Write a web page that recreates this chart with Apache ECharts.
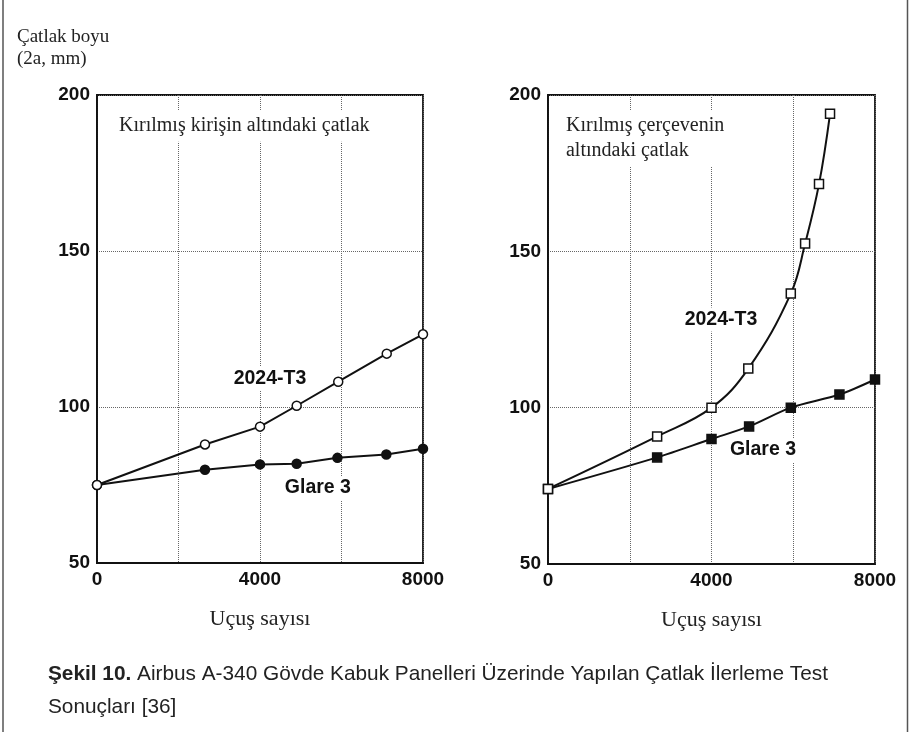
<!DOCTYPE html>
<html><head><meta charset="utf-8">
<script src="https://cdn.jsdelivr.net/npm/echarts@6/dist/echarts.min.js"></script>
<style>html,body{margin:0;padding:0;background:#fff}#c{width:909px;height:732px}</style>
</head><body><div id="c"></div>
<script>
// ---- data ----
const xTickLabels = [0, 4000, 8000];
const yTickLabels = [50, 100, 150, 200];
const leftT3X = [0, 2650, 4000, 4900, 5920, 7110, 8000];
const leftT3Y = [75, 88, 93.7, 100.4, 108.1, 117.1, 123.3];
const leftG3X = [0, 2650, 4000, 4900, 5900, 7100, 8000];
const leftG3Y = [75, 79.9, 81.6, 81.8, 83.7, 84.8, 86.6];
const rightT3X = [0, 2670, 4000, 4900, 5940, 6290, 6630, 6900];
const rightT3Y = [74, 90.8, 100, 112.5, 136.5, 152.5, 171.5, 194];
const rightG3X = [0, 2670, 4000, 4920, 5940, 7130, 8000];
const rightG3Y = [74, 84.1, 90, 94, 100, 104.2, 109];
const seriesNames = ['2024-T3', 'Glare 3'];
const panelTitles = ['Kırılmış kirişin altındaki çatlak', 'Kırılmış çerçevenin\naltındaki çatlak'];
const yAxisTitle = 'Çatlak boyu\n(2a, mm)';
const xAxisTitle = 'Uçuş sayısı';
const captionBold = 'Şekil 10.';
const captionRest = ' Airbus A-340 Gövde Kabuk Panelleri Üzerinde Yapılan Çatlak İlerleme Test\nSonuçları [36]';

const zip = (xs, ys) => xs.map((x, i) => [x, ys[i]]);
const SERIF = 'Liberation Serif, Times New Roman, serif';
const SANS = 'Liberation Sans, Arial, sans-serif';
const INK = '#111';

function xAxisDef(idx) {
  return {
    type: 'value', gridIndex: idx, min: 0, max: 8000, interval: 2000,
    name: xAxisTitle, nameLocation: 'middle', nameGap: 45,
    nameTextStyle: { fontFamily: SERIF, fontSize: 22, color: '#222' },
    axisLine: { show: true, lineStyle: { color: INK, width: 1.8 } },
    axisTick: { show: false },
    axisLabel: { margin: 7, fontFamily: SANS, fontWeight: 'bold', fontSize: 19, color: INK,
      formatter: v => xTickLabels.includes(v) ? String(v) : '' },
    splitLine: { show: true, lineStyle: { type: 'dotted', color: '#666', width: 1 } }
  };
}
function yAxisDef(idx) {
  return {
    type: 'value', gridIndex: idx, min: 50, max: 200, interval: 50,
    axisLine: { show: true, lineStyle: { color: INK, width: 1.8 } },
    axisTick: { show: false },
    axisLabel: { margin: 7, fontFamily: SANS, fontWeight: 'bold', fontSize: 19, color: INK,
      formatter: v => yTickLabels.includes(v) ? String(v) : '' },
    splitLine: { show: true, lineStyle: { type: 'dotted', color: '#666', width: 1 } }
  };
}
const lblStyle = { fontFamily: SANS, fontWeight: 'bold', fontSize: 19.5, color: INK,
  backgroundColor: '#fff', padding: [2, 3] };
const ttlStyle = { fontFamily: SERIF, fontSize: 20, color: '#222', lineHeight: 25,
  backgroundColor: '#fff', padding: [3, 4], align: 'left' };
function annot(name, coord, style) {
  return { name: name, coord: coord, symbol: 'circle', symbolSize: 0,
    label: Object.assign({ show: true, position: 'inside', formatter: name }, style) };
}
function lineSeries(name, idx, data, symbol, filled, smooth, marks) {
  return {
    type: 'line', name: name, xAxisIndex: idx, yAxisIndex: idx, data: data,
    smooth: smooth, symbol: symbol, symbolSize: 9, showAllSymbol: true,
    lineStyle: { color: INK, width: 2 },
    itemStyle: { color: filled ? INK : '#fff', borderColor: INK, borderWidth: 1.5 },
    z: filled ? 3 : 4,
    markPoint: marks ? { silent: true, data: marks } : undefined
  };
}

const chart = echarts.init(document.getElementById('c'), null, { renderer: 'canvas' });
chart.setOption({
  backgroundColor: '#fff',
  animation: false,
  title: [
    { text: yAxisTitle, left: 12, top: 21,
      textStyle: { fontFamily: SERIF, fontSize: 19, fontWeight: 'normal', color: '#222', lineHeight: 22 } },
    { text: '{b|' + captionBold + '}' + captionRest, left: 43, top: 653,
      textStyle: { fontFamily: SANS, fontSize: 20.8,
        fontWeight: 'normal', color: '#222', lineHeight: 33,
        rich: { b: { fontFamily: SANS, fontSize: 20.8,
          fontWeight: 'bold', color: '#222', lineHeight: 33 } } } }
  ],
  grid: [
    { left: 97, top: 95, width: 326, height: 468, show: true, borderColor: INK, borderWidth: 1.8, backgroundColor: 'transparent' },
    { left: 548, top: 95, width: 327, height: 469, show: true, borderColor: INK, borderWidth: 1.8, backgroundColor: 'transparent' }
  ],
  xAxis: [xAxisDef(0), xAxisDef(1)],
  yAxis: [yAxisDef(0), yAxisDef(1)],
  graphic: [
    { type: 'line', shape: { x1: 3, y1: 0, x2: 3, y2: 732 }, style: { stroke: '#555', lineWidth: 1.5 } },
    { type: 'line', shape: { x1: 907.5, y1: 0, x2: 907.5, y2: 732 }, style: { stroke: '#555', lineWidth: 1.5 } }
  ],
  series: [
    lineSeries(seriesNames[0], 0, zip(leftT3X, leftT3Y), 'circle', false, false,
      [annot(seriesNames[0], [4245, 109], lblStyle),
       annot(panelTitles[0], [442, 190], ttlStyle)]),
    lineSeries(seriesNames[1], 0, zip(leftG3X, leftG3Y), 'circle', true, false,
      [annot(seriesNames[1], [5420, 74], lblStyle)]),
    lineSeries(seriesNames[0], 1, zip(rightT3X, rightT3Y), 'rect', false, 0.4,
      [annot(seriesNames[0], [4232, 128.2], lblStyle),
       annot(panelTitles[1], [342, 186.2], ttlStyle)]),
    lineSeries(seriesNames[1], 1, zip(rightG3X, rightG3Y), 'rect', true, 0.3,
      [annot(seriesNames[1], [5260, 86.5], lblStyle)])
  ]
});
</script></body></html>
